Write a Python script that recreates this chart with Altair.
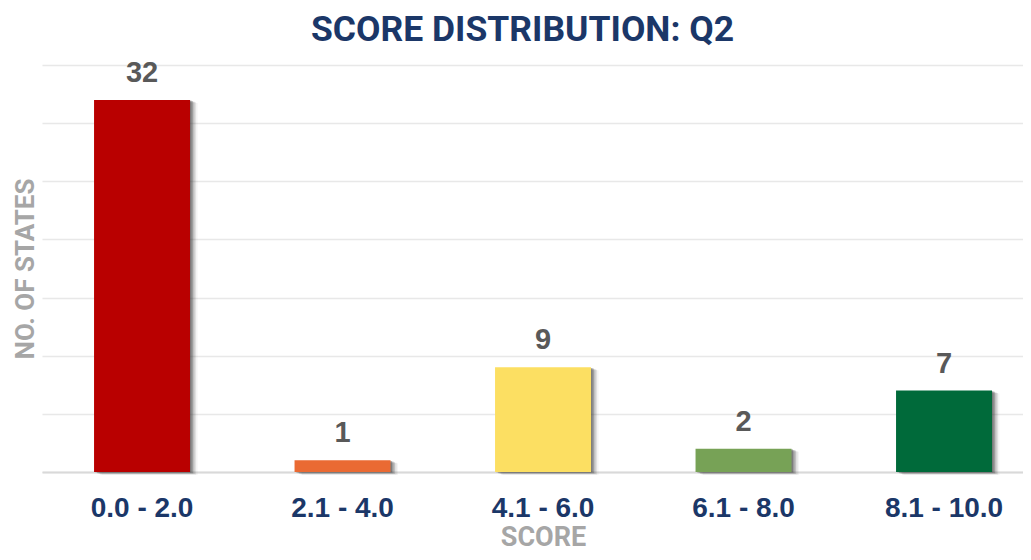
import altair as alt
import pandas as pd

categories = ["0.0 - 2.0", "2.1 - 4.0", "4.1 - 6.0", "6.1 - 8.0", "8.1 - 10.0"]
counts = [32, 1, 9, 2, 7]
colors = ["#B90000", "#EA6A33", "#FCDF62", "#77A256", "#006A3A"]
title_text = "SCORE DISTRIBUTION: Q2"

df = pd.DataFrame({"score": categories, "states": counts, "color": colors})

W, H = 981, 407

x = alt.X(
    "score:N",
    sort=categories,
    scale=alt.Scale(paddingInner=0.5212, paddingOuter=0.207, align=0.627),
    axis=alt.Axis(
        title="SCORE",
        labelAngle=0,
        labelFont="Liberation Sans",
        labelFontWeight="bold",
        labelFontSize=28,
        labelColor="#1B3768",
        labelPadding=22,
        ticks=False,
        tickSize=0,
        domain=True,
        domainColor="#D9D9D9",
        domainWidth=2,
        grid=False,
        titleFont="Roboto",
        titleFontWeight="bold",
        titleFontSize=27,
        titleColor="#A6A6A6",
        titleX=501,
        titleY=73,
        titleBaseline="alphabetic",
        titleAnchor="start",
        titleAlign="center",
    ),
)
y = alt.Y(
    "states:Q",
    scale=alt.Scale(domain=[0, 35], nice=False),
    axis=alt.Axis(
        title="NO. OF STATES",
        values=[0, 5, 10, 15, 20, 25, 30, 35],
        labels=False,
        ticks=False,
        domain=False,
        grid=True,
        gridColor="#E8E8E8",
        gridWidth=1.5,
        titleFont="Roboto",
        titleFontWeight="bold",
        titleFontSize=26,
        titleColor="#A6A6A6",
        titleAngle=270,
        titleX=-9,
        titleY=H / 2,
        titleBaseline="alphabetic",
        titleAlign="center",
    ),
)

base = alt.Chart(df)

shadows = []
for k, op in [(1.5, 0.3), (3, 0.25), (4.5, 0.18), (6, 0.1), (7.5, 0.05)]:
    shadows.append(
        base.mark_bar(color="#333333", opacity=op, xOffset=k, yOffset=k * 0.4).encode(
            x=x, y=y
        )
    )

bars = base.mark_bar().encode(
    x=x, y=y, color=alt.Color("color:N", scale=None)
)
labels = base.mark_text(
    font="Liberation Sans",
    fontWeight="bold",
    fontSize=29,
    color="#595959",
    baseline="alphabetic",
    dy=-18,
).encode(x=x, y=y, text="states:Q")

title = (
    alt.Chart(pd.DataFrame({"t": [title_text]}))
    .mark_text(
        font="Roboto",
        fontWeight="bold",
        fontSize=35.5,
        color="#1B3768",
        baseline="alphabetic",
        align="center",
    )
    .encode(x=alt.value(480.5), y=alt.value(-24), text="t:N")
)

chart = (
    alt.layer(*shadows, bars, labels, title)
    .properties(
        width=W,
        height=H,
        autosize=alt.AutoSizeParams(type="none"),
        padding={"left": 34, "top": 57, "right": 0, "bottom": 80},
    )
    .configure_view(stroke=None)
)

chart.save("out.html", embed_options={"renderer": "svg", "actions": False})
